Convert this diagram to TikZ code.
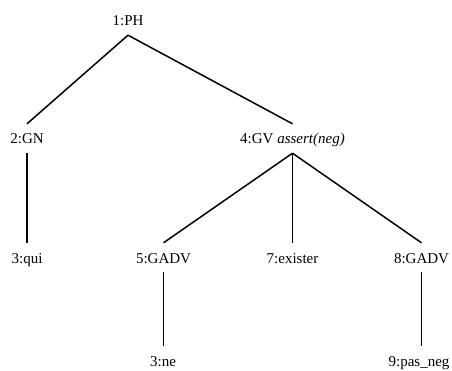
\documentclass[tikz,border=0pt]{standalone}
\usepackage{fontspec}
\setmainfont{Liberation Serif}
\begin{document}
\begin{tikzpicture}[x=1pt,y=1pt,
  lbl/.style={anchor=base, inner xsep=0pt, inner ysep=6pt,
    text height=14pt, text depth=3pt, font=\fontsize{15}{18}\selectfont},
  edge/.style={line width=1.5pt}]
\useasboundingbox (0,0) rectangle (452,370);
% tree nodes (x, baseline)
\node[lbl] (ph)      at (128,344) {1:PH};
\node[lbl] (gn)      at (27,226)  {2:GN};
\node[lbl] (gv)      at (292.5,226) {4:GV \textit{assert(neg)}};
\node[lbl] (qui)     at (27,107)  {3:qui};
\node[lbl] (gadvA)   at (163.5,107) {5:GADV};
\node[lbl] (exister) at (292.5,107) {7:exister};
\node[lbl] (gadvB)   at (421.5,107) {8:GADV};
\node[lbl] (ne)      at (163,4)   {3:ne};
\node[lbl] (pasneg)  at (419,4)   {9:pas\_neg};
% branches
\draw[edge] (ph.south) -- (gn.north);
\draw[edge] (ph.south) -- (gv.north);
\draw[edge] (gn.south) -- (qui.north);
\draw[edge] (gv.south) -- (gadvA.north);
\draw[edge] (gv.south) -- (exister.north);
\draw[edge] (gv.south) -- (gadvB.north);
\draw[edge] (gadvA.south) -- (gadvA.south |- ne.north);
\draw[edge] (gadvB.south) -- (gadvB.south |- pasneg.north);
\end{tikzpicture}
\end{document}
